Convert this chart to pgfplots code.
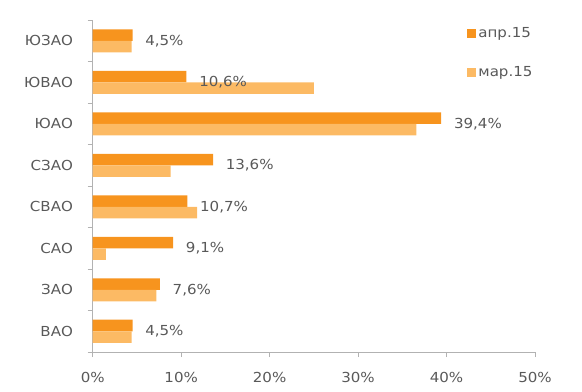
\documentclass[border=0pt]{standalone}
\usepackage{fontspec}
\setmainfont{DejaVu Sans}[FakeStretch=1.09]
\usepackage{pgfplots}
\pgfplotsset{compat=1.18}
\definecolor{dark}{RGB}{247,148,30}
\definecolor{light}{RGB}{252,186,100}
\definecolor{txt}{RGB}{89,89,89}
\definecolor{axc}{RGB}{178,178,178}
\newcommand{\fs}{\fontsize{13.8bp}{16bp}\selectfont}
\begin{document}
\fs
\begin{tikzpicture}
\begin{axis}[name=ax, scale only axis, width=442.3bp, height=332bp,
 xmin=0, xmax=50, ymin=-0.5, ymax=7.5,
 axis lines*=left, axis line style={draw=axc,-, line width=0.8bp},
 /pgf/number format/assume math mode=true,
 xtick={0,10,...,50}, xticklabel={\pgfmathprintnumber{\tick}\%},
 ytick={-0.5,0.5,...,7.5}, y tick label as interval,
 yticklabels={ВАО,ЗАО,САО,СВАО,СЗАО,ЮАО,ЮВАО,ЮЗАО},
 tick align=outside, major tick length=5bp, tick style={draw=axc, line width=0.8bp},
 xticklabel style={text=txt, font=\fs, yshift=-10bp},
 yticklabel style={text=txt, font=\fs, xshift=-10bp},
 legend style={at={(rel axis cs:0.84,0.99)}, anchor=north west, draw=none, fill=none,
   row sep=23bp, text=txt, font=\fs},
 legend cell align=left,
 legend image code/.code={\fill[#1,draw=none] (0bp,-4.5bp) rectangle (9bp,4.5bp);},
]
\addplot[xbar, bar width=11.5bp, bar shift=5.75bp, fill=dark, draw=none,
  nodes near coords={\pgfmathprintnumber[use comma,fixed,fixed zerofill,precision=1]{\pgfplotspointmeta}\%},
  nodes near coords style={anchor=west, xshift=8bp, text=txt, font=\fs}]
  coordinates {(4.5,0) (7.6,1) (9.1,2) (10.7,3) (13.6,4) (39.4,5) (10.6,6) (4.5,7)};
\addlegendentry{апр.15}
\addplot[xbar, bar width=11.5bp, bar shift=-5.75bp, fill=light, draw=none]
  coordinates {(4.4,0) (7.2,1) (1.5,2) (11.8,3) (8.8,4) (36.6,5) (25.0,6) (4.4,7)};
\addlegendentry{мар.15}
\end{axis}
\path (ax.south west) ++(-92.7bp,-40bp) rectangle ++(582bp,392bp);
\end{tikzpicture}
\end{document}
